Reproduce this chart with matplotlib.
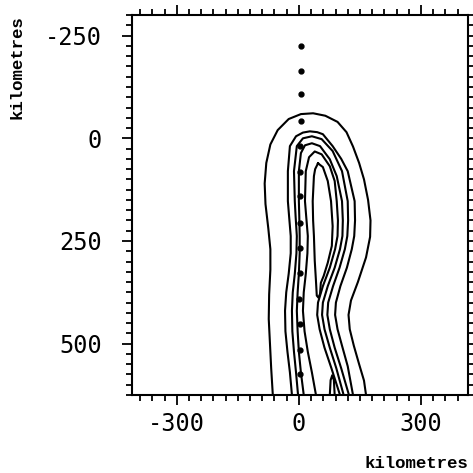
import matplotlib
matplotlib.use("Agg")
import matplotlib.pyplot as plt
from matplotlib.ticker import MultipleLocator

# contour outlines (km): x across, y down the track
outer_x = [-64, -68, -71, -74, -73, -70, -70, -75, -82, -84, -80, -70, -52, -25, 5, 35, 65, 95,
           117, 133, 148, 160, 170, 176, 175, 165, 145, 128, 122, 125, 135, 148, 160, 165]
outer_y = [625, 560, 500, 440, 380, 320, 270, 220, 160, 110, 60, 15, -20, -47, -59, -61, -55, -40,
           -15, 20, 60, 100, 150, 200, 240, 290, 350, 395, 430, 465, 505, 550, 590, 625]

c2_x = [-17, -22, -28, -33, -34, -31, -25, -20, -20, -24, -27, -27, -22, -7, 10, 27, 45, 59, 83,
        104, 120, 137, 138, 136, 130, 118, 102, 91, 89, 95, 106, 120, 133]
c2_y = [625, 570, 520, 470, 420, 375, 330, 280, 238, 190, 153, 80, 19, -5, -14, -17, -15, -10, 19,
        50, 80, 153, 200, 238, 270, 315, 360, 400, 430, 465, 505, 555, 625]

c3_x = [-2, -7, -12, -16, -17, -15, -10, -6, -5, -8, -10, -12, -5, 10, 32, 56, 83, 106, 120,
        121, 119, 113, 100, 84, 72, 70, 76, 88, 104, 123]
c3_y = [625, 570, 520, 470, 420, 375, 330, 280, 238, 190, 153, 80, 19, 0, -5, 2, 31, 80, 153,
        200, 238, 270, 315, 360, 400, 430, 465, 510, 560, 625]

c4_x = [12, 5, 0, -3, -5, -3, 0, 2, 2, 1, 0, 0, 5, 15, 32, 52, 76, 93, 106, 108, 107, 101, 88,
        71, 59, 57, 63, 76, 92, 110]
c4_y = [625, 570, 520, 470, 420, 375, 330, 280, 238, 190, 153, 80, 36, 17, 12, 19, 51, 92, 153,
        200, 238, 270, 315, 360, 400, 430, 465, 510, 560, 625]

c5_x = [42, 32, 22, 14, 10, 12, 17, 21, 22, 18, 15, 17, 25, 39, 56, 76, 88, 93, 96, 95, 89, 76,
        59, 47, 45, 51, 63, 80, 101]
c5_y = [625, 570, 520, 470, 420, 375, 330, 280, 238, 190, 153, 80, 46, 32, 39, 68, 104, 153, 200,
        238, 270, 315, 360, 400, 430, 465, 510, 560, 625]

c6_x = [47, 40, 37, 34, 35, 37, 39, 42, 44, 48, 52, 54, 61, 71, 81, 83, 79, 71, 59, 47]
c6_y = [61, 75, 92, 153, 200, 238, 298, 347, 383, 388, 379, 352, 335, 303, 262, 214, 153, 104,
        70, 61]

spike_x = [76, 78, 82, 86, 88]
spike_y = [625, 589, 577, 589, 625]

# track points
dot_x = [5, 5, 5, 5, 2, 2, 2, 2, 2, 2, 0, 2, 2, 2]
dot_y = [-226, -165, -107, -41, 19, 83, 141, 206, 267, 328, 391, 451, 515, 575]

x_ticks = [-300, 0, 300]
y_ticks = [-250, 0, 250, 500]

fig = plt.figure(figsize=(4.73, 4.73), dpi=100)
ax = fig.add_axes([0.279, 0.165, 0.710, 0.803])

for xs, ys in [(outer_x, outer_y), (c2_x, c2_y), (c3_x, c3_y), (c4_x, c4_y),
               (c5_x, c5_y), (c6_x, c6_y), (spike_x, spike_y)]:
    ax.plot(xs, ys, color="black", lw=1.5, solid_joinstyle="round")

ax.plot(dot_x, dot_y, "o", color="black", ms=3.5, ls="none")

ax.set_xlim(-410, 415)
ax.set_ylim(625, -300)

ax.xaxis.set_minor_locator(MultipleLocator(30))
ax.yaxis.set_minor_locator(MultipleLocator(25))
ax.set_xticks(x_ticks)
ax.set_yticks(y_ticks)
ax.set_xticklabels([str(v) for v in x_ticks])
ax.set_yticklabels([str(v) for v in y_ticks])

ax.tick_params(which="both", direction="out", top=True, right=True, width=1.3)
ax.tick_params(which="major", length=7.5, pad=5, labelsize=17)
ax.tick_params(which="minor", length=4)
ax.tick_params(axis="y", which="major", pad=14)
for lab in ax.get_xticklabels() + ax.get_yticklabels():
    lab.set_family("DejaVu Sans Mono")

for s in ax.spines.values():
    s.set_linewidth(1.5)

lab_font = dict(family="Liberation Mono", size=12.5, weight="bold")
ax.set_xlabel("kilometres", loc="right", labelpad=14, **lab_font)
ax.set_ylabel("kilometres", loc="top", labelpad=15, **lab_font)

fig.savefig("out.png", dpi=100)
